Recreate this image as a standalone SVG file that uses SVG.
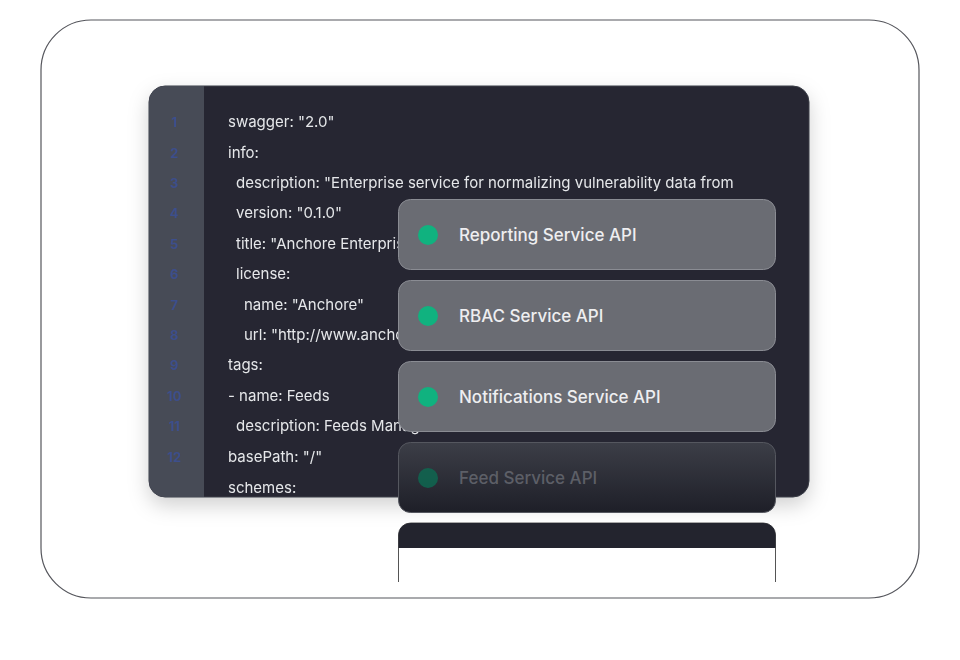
<svg xmlns="http://www.w3.org/2000/svg" width="960" height="660" viewBox="0 0 960 660">
<style>
.code{font-family:Inter,"Open Sans",sans-serif;font-size:15px;fill:#e6e7ea}
.ln{font-family:Inter,"Open Sans",sans-serif;font-size:13px;font-weight:700;fill:#3d4f8c;text-anchor:middle}
.card{fill:#6a6c73;stroke:#8a8c93;stroke-width:1}
.lbl{font-family:Inter,"Open Sans",sans-serif;font-size:17px;font-weight:500;fill:#eeeef0}
.dot{fill:#10b27f}
</style>
<defs>
<clipPath id="cp"><rect x="149" y="86" width="660" height="411" rx="16"/></clipPath>
<linearGradient id="dk" x1="0" y1="0" x2="0" y2="1"><stop offset="0" stop-color="#3c3e47"/><stop offset="1" stop-color="#1e1f28"/></linearGradient>
<filter id="sh" x="-10%" y="-10%" width="120%" height="130%"><feDropShadow dx="0" dy="8" stdDeviation="10" flood-color="#000" flood-opacity="0.18"/></filter>
</defs>
<rect width="960" height="660" fill="#fff"/>
<rect x="41" y="20" width="878" height="578" rx="50" fill="#fff" stroke="#55565c" stroke-width="1.2"/>
<g id="code" filter="url(#sh)">
<rect x="149" y="86" width="660" height="411" rx="16" fill="#262833" stroke="#3a3c46"/>
<g clip-path="url(#cp)">
<rect x="149" y="86" width="55" height="411" fill="#474b57"/>
<text class="ln" x="174" y="127">1</text><text class="ln" x="174" y="158">2</text><text class="ln" x="174" y="188">3</text><text class="ln" x="174" y="218">4</text><text class="ln" x="174" y="249">5</text><text class="ln" x="174" y="279">6</text><text class="ln" x="174" y="310">7</text><text class="ln" x="174" y="340">8</text><text class="ln" x="174" y="370">9</text><text class="ln" x="174" y="401">10</text><text class="ln" x="174" y="431">11</text><text class="ln" x="174" y="462">12</text>
<text class="code" x="228" y="127">swagger: "2.0"</text>
<text class="code" x="228" y="158">info:</text>
<text class="code" x="236" y="188">description: "Enterprise service for normalizing vulnerability data from</text>
<text class="code" x="236" y="218">version: "0.1.0"</text>
<text class="code" x="236" y="249">title: "Anchore Enterprise</text>
<text class="code" x="236" y="279">license:</text>
<text class="code" x="244" y="310">name: "Anchore"</text>
<text class="code" x="244" y="340">url: "http://www.anchore.com"</text>
<text class="code" x="228" y="370">tags:</text>
<text class="code" x="228" y="401">- name: Feeds</text>
<text class="code" x="236" y="431">description: Feeds Management</text>
<text class="code" x="228" y="462">basePath: "/"</text>
<text class="code" x="228" y="493">schemes:</text>
</g>
</g>
<g id="card1"><rect class="card" x="398.5" y="199.5" width="377" height="70" rx="12"/><circle class="dot" cx="428" cy="235" r="10"/><text class="lbl" x="459" y="241">Reporting Service API</text></g>
<g id="card2"><rect class="card" x="398.5" y="280.5" width="377" height="70" rx="12"/><circle class="dot" cx="428" cy="316" r="10"/><text class="lbl" x="459" y="322">RBAC Service API</text></g>
<g id="card3"><rect class="card" x="398.5" y="361.5" width="377" height="70" rx="12"/><circle class="dot" cx="428" cy="397" r="10"/><text class="lbl" x="459" y="403">Notifications Service API</text></g>
<g id="card4"><rect x="398.5" y="442.5" width="377" height="70" rx="12" fill="url(#dk)" stroke="#55575f"/><circle cx="428" cy="478" r="10" fill="#0d6b52" opacity="0.8"/><text class="lbl" x="459" y="484" fill="#5a5c64" style="fill:#5d5f67">Feed Service API</text></g>
<g id="card5"><path d="M398.5 582 V535 a12 12 0 0 1 12 -12 H763.5 a12 12 0 0 1 12 12 V582" fill="#fff" stroke="#555"/><path d="M398.5 548 V535 a12 12 0 0 1 12 -12 H763.5 a12 12 0 0 1 12 12 V548 Z" fill="#23242e"/></g>
</svg>
